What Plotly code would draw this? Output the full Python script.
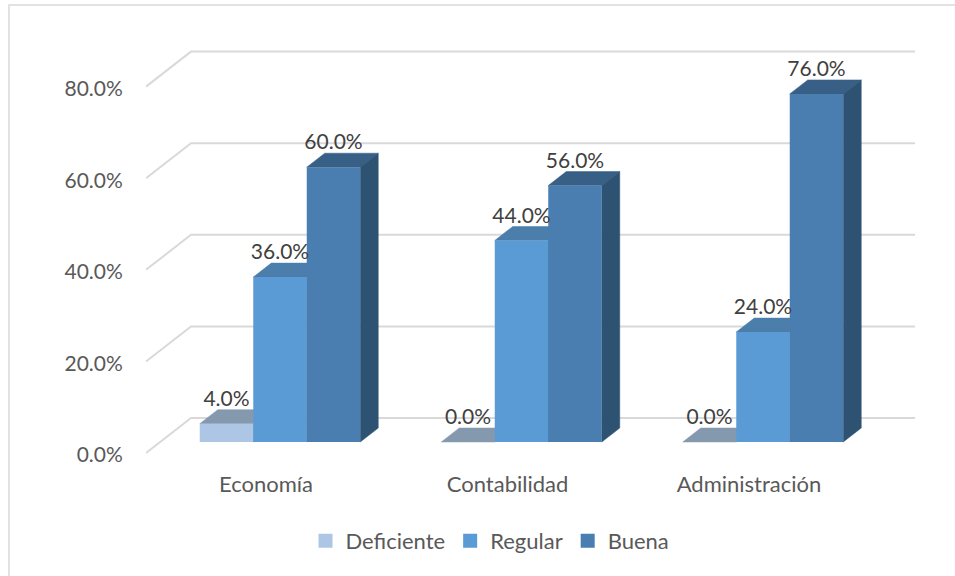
import plotly.graph_objects as go

categories = ["Economía", "Contabilidad", "Administración"]
series_names = ["Deficiente", "Regular", "Buena"]
deficiente = [4.0, 0.0, 0.0]
regular = [36.0, 44.0, 24.0]
buena = [60.0, 56.0, 76.0]
axis_values = [0, 20, 40, 60, 80]
axis_labels = ["0.0%", "20.0%", "40.0%", "60.0%", "80.0%"]

series = [deficiente, regular, buena]
front_colors = ["#adc6e6", "#5b9bd5", "#4a7eb1"]
top_colors = ["#8498ae", "#4b7eab", "#385f85"]
side_colors = ["#7f95ad", "#41709a", "#2e5272"]
FONT = "Lato"

L, R, T, B = 146, 915, 40, 462
PX_X, PX_Y = 241.5, 4.58
X0, Y0 = 280, 442
xr = [(L - X0) / PX_X, (R - X0) / PX_X]
yr = [(Y0 - B) / PX_Y, (Y0 - T) / PX_Y]
BAR_W = 53.5 / PX_X
DX, DY = 18 / PX_X, 14 / PX_Y
FRONT, BACK = -11 / PX_Y, 24 / PX_Y
WALL_X = (191 - 280) / PX_X
LABEL_SHIFT = -14 / PX_X
LABEL_DY = 23 / PX_Y
TICK_TEXT_SHIFT = -2 / PX_Y

fig = go.Figure()
for v in axis_values:
    fig.add_trace(go.Scatter(
        x=[xr[0], WALL_X, xr[1]], y=[v + FRONT, v + BACK, v + BACK], mode="lines",
        line=dict(color="#d9d9d9", width=2), showlegend=False, hoverinfo="skip"))

for s, vals in enumerate(series):
    for i, v in enumerate(vals):
        x0 = i + (s - 1.5) * BAR_W
        x1 = x0 + BAR_W
        fig.add_trace(go.Scatter(
            x=[x0, x0 + DX, x1 + DX, x1, x0], y=[v, v + DY, v + DY, v, v],
            mode="lines", fill="toself", fillcolor=top_colors[s],
            line=dict(color=top_colors[s], width=0.5), showlegend=False, hoverinfo="skip"))
        if v > 0:
            fig.add_trace(go.Scatter(
                x=[x1, x1 + DX, x1 + DX, x1, x1], y=[0, DY, v + DY, v, 0],
                mode="lines", fill="toself", fillcolor=side_colors[s],
                line=dict(color=side_colors[s], width=0.5), showlegend=False, hoverinfo="skip"))

for s, vals in enumerate(series):
    fig.add_trace(go.Bar(
        x=[i + (s - 1) * BAR_W for i in range(len(vals))], y=vals, width=BAR_W,
        name=series_names[s], marker=dict(color=front_colors[s], line=dict(width=0)),
        showlegend=False, xaxis="x2", yaxis="y2"))

for s, vals in enumerate(series):
    fig.add_trace(go.Scatter(
        x=[i + (s - 1) * BAR_W for i in range(len(vals))], y=[v + LABEL_DY for v in vals],
        text=[f"{v:.1f}%" for v in vals], mode="text", textposition="middle center",
        textfont=dict(family=FONT, size=21, color="#404040"),
        showlegend=False, hoverinfo="skip", xaxis="x3", yaxis="y3"))

for s, name in enumerate(series_names):
    fig.add_trace(go.Scatter(
        x=[None], y=[None], mode="markers", name=name,
        marker=dict(symbol="square", size=14, color=front_colors[s]),
        xaxis="x3", yaxis="y3"))

hidden = dict(visible=False, fixedrange=True)
fig.update_layout(
    width=955, height=576, autosize=False,
    margin=dict(l=L, r=955 - R, t=T, b=576 - B),
    paper_bgcolor="white", plot_bgcolor="white",
    barmode="overlay",
    font=dict(family=FONT, size=21, color="#595959"),
    xaxis=dict(range=xr, showgrid=False, zeroline=False, showline=False,
               tickmode="array", tickvals=[i + LABEL_SHIFT for i in range(len(categories))],
               ticktext=categories, ticks="outside", ticklen=3, tickcolor="rgba(0,0,0,0)",
               tickfont=dict(family=FONT, size=22, color="#595959")),
    yaxis=dict(range=yr, showgrid=False, zeroline=False, showline=False,
               tickmode="array", tickvals=[v + FRONT + TICK_TEXT_SHIFT for v in axis_values],
               ticktext=axis_labels, ticks="outside", ticklen=18, tickcolor="rgba(0,0,0,0)",
               tickfont=dict(family=FONT, size=21, color="#595959")),
    xaxis2=dict(range=xr, overlaying="x", **hidden),
    yaxis2=dict(range=yr, overlaying="y", **hidden),
    xaxis3=dict(range=xr, overlaying="x", **hidden),
    yaxis3=dict(range=yr, overlaying="y", **hidden),
    legend=dict(orientation="h", x=(490 - L) / (R - L), xanchor="center",
                y=(B - 541) / (B - T), yanchor="middle",
                font=dict(family=FONT, size=22, color="#595959"), itemclick=False),
    shapes=[dict(type="rect", xref="paper", yref="paper",
                 x0=(9 - L) / (R - L), x1=(1100 - L) / (R - L),
                 y0=(B - 700) / (B - T), y1=(B - 5) / (B - T),
                 line=dict(color="#d9d9d9", width=1.5), layer="below")],
)
fig.write_html("out.html", config={"displayModeBar": False},
               post_script="document.body.style.margin='0';")
